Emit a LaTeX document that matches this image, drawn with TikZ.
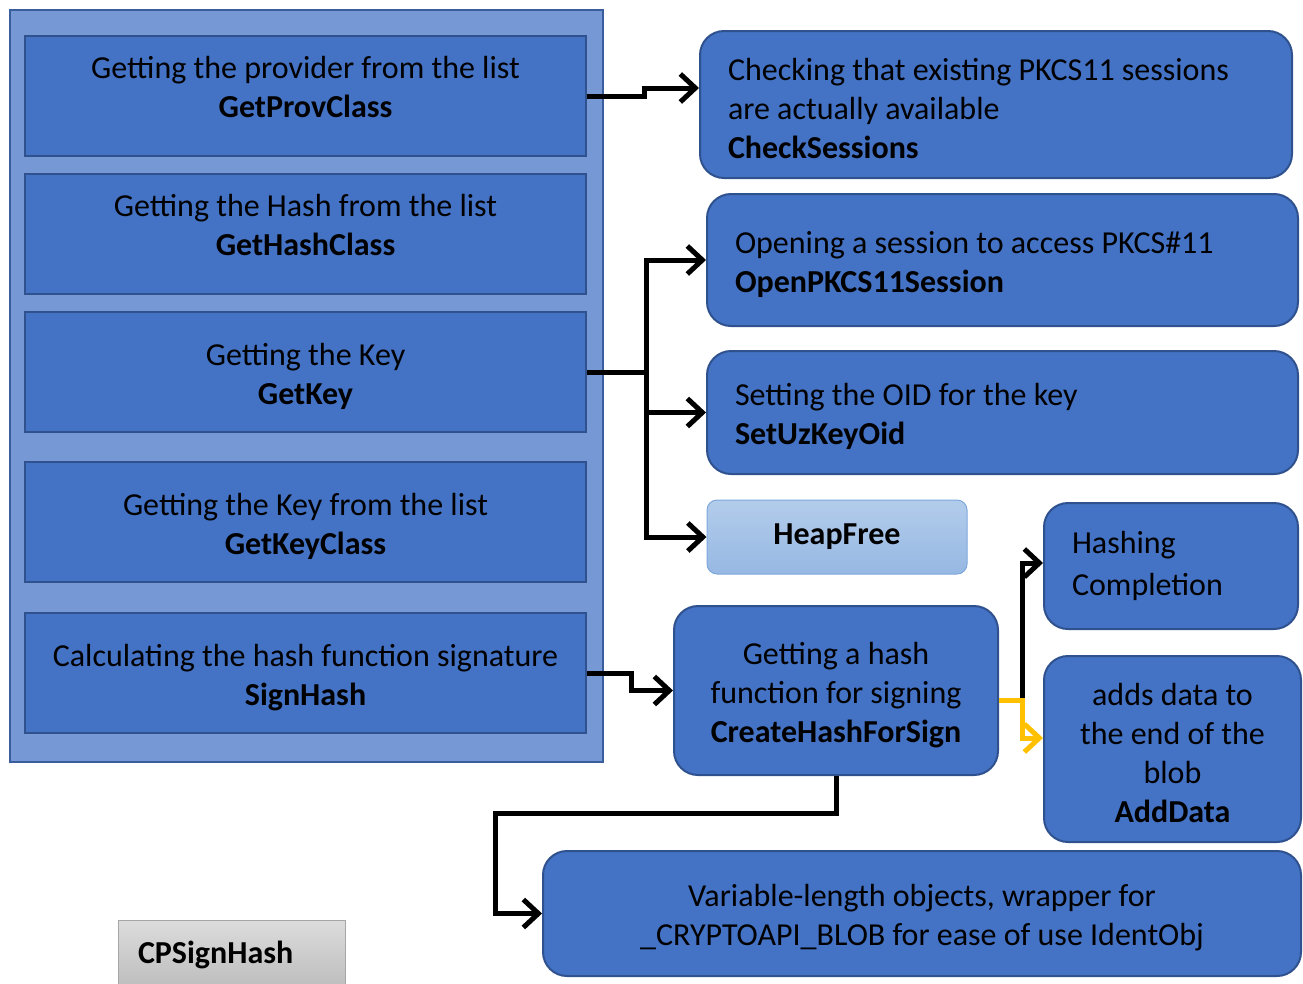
\documentclass[tikz,border=0pt]{standalone}
\usepackage{fontspec}
\setmainfont{Carlito}
\usetikzlibrary{arrows.meta}
\definecolor{boxblue}{HTML}{4472C4}
\definecolor{boxline}{HTML}{2F528F}
\definecolor{frameblue}{HTML}{7698D4}
\definecolor{frameline}{HTML}{3A5D9E}
\definecolor{heaptop}{HTML}{B2CCEB}
\definecolor{heapbot}{HTML}{97B8E3}
\definecolor{heapline}{HTML}{7EA8DC}
\definecolor{greytop}{HTML}{DCDCDC}
\definecolor{greybot}{HTML}{BCBCBC}
\definecolor{linkyellow}{HTML}{FFC000}
\newcommand{\boxstrut}{\rule{0pt}{31pt}}

\begin{document}
\begin{tikzpicture}[x=1pt,y=-1pt,
	every node/.style={font=\fontsize{32}{39}\selectfont,text=black},
	inbox/.style={rectangle,draw=boxline,line width=2pt,fill=boxblue,minimum width=561pt,minimum height=120pt,align=center},
	rbox/.style={rectangle,rounded corners=24pt,draw=boxline,line width=2pt,fill=boxblue,inner xsep=28pt,align=flush left},
	cbox/.style={rectangle,rounded corners=24pt,draw=boxline,line width=2pt,fill=boxblue,align=center},
	link/.style={line width=5pt,-{Straight Barb[length=15pt,width=28pt]}}]
	\useasboundingbox (0,0) rectangle (1303,983);
	% left column
	\node [rectangle,draw=frameline,line width=1.5pt,fill=frameblue,minimum width=593pt,minimum height=752pt] (frame) at (306.5,386) {};
	\node [inbox] (prov) at (305.5,96) {};
	\node [align=center] (provt) at (305.5,87) {Getting the provider from the list\\\textbf{GetProvClass}};
	\node [inbox] (hashc) at (305.5,234) {};
	\node [align=center] (hashct) at (305.5,225) {Getting the Hash from the list\\\textbf{GetHashClass}};
	\node [inbox] (key) at (305.5,372) {\boxstrut Getting the Key\\\textbf{GetKey}};
	\node [inbox] (keyc) at (305.5,522) {\boxstrut Getting the Key from the list\\\textbf{GetKeyClass}};
	\node [inbox] (sign) at (305.5,673) {\boxstrut Calculating the hash function signature\\\textbf{SignHash}};
	% right side
	\node [rbox,minimum width=592pt,minimum height=147pt,text width=536pt] (check) at (996,104.5) {\boxstrut Checking that existing PKCS11 sessions\\are actually available\\\textbf{CheckSessions}};
	\node [rbox,minimum width=591pt,minimum height=132pt,text width=535pt] (open) at (1002.5,260) {\boxstrut Opening a session to access PKCS\#11\\\textbf{OpenPKCS11Session}};
	\node [rbox,minimum width=591pt,minimum height=123pt,text width=535pt] (oid) at (1002.5,412.5) {\boxstrut Setting the OID for the key\\\textbf{SetUzKeyOid}};
	\node [rectangle,rounded corners=10pt,draw=heapline,line width=1pt,top color=heaptop,bottom color=heapbot,minimum width=260pt,minimum height=74pt] (heap) at (837,537) {\textbf{HeapFree}};
	\node [rbox,minimum width=254pt,minimum height=126pt,text width=198pt] (hash) at (1171,566) {Hashing\\[3pt]Completion};
	\node [cbox,minimum width=324pt,minimum height=169pt] (create) at (836,690.5) {\boxstrut Getting a hash\\function for signing\\\textbf{CreateHashForSign}};
	\node [cbox,minimum width=257pt,minimum height=186pt] (adddata) at (1172.5,749) {\boxstrut adds data to\\the end of the\\blob\\\textbf{AddData}};
	\node [cbox,minimum width=758pt,minimum height=125pt] (blob) at (922,913.5) {\boxstrut Variable-length objects, wrapper for\\\_CRYPTOAPI\_BLOB for ease of use IdentObj};
	\node [rectangle,draw=gray!70,line width=1pt,top color=greytop,bottom color=greybot,minimum width=227pt,minimum height=70pt,inner xsep=20pt,text width=187pt,align=flush left] (cps) at (231.5,955) {\textbf{CPSignHash}};
	% connectors
	\coordinate (hub) at (646,372);
	\coordinate (bend) at (495,813);
	\coordinate (fork) at (1022,700);
	\draw [link] (prov.east) -- ++(57,0) |- ([yshift=16.5pt]check.west);
	\draw [link] (key.east) -- (hub) |- (open.west);
	\draw [link] (hub) |- (oid.west);
	\draw [link] (hub) |- (heap.west);
	\draw [link] (sign.east) -- ++(44,0) |- (create.west);
	\draw [link] (create.south) |- (bend) |- (blob.west);
	\draw [link] ([yshift=-9.5pt]create.east) -- (fork) |- ([yshift=3pt]hash.west);
	\draw [link,draw=linkyellow] ([yshift=-9.5pt]create.east) -- (fork) |- ([yshift=11pt]adddata.west);
\end{tikzpicture}
\end{document}
